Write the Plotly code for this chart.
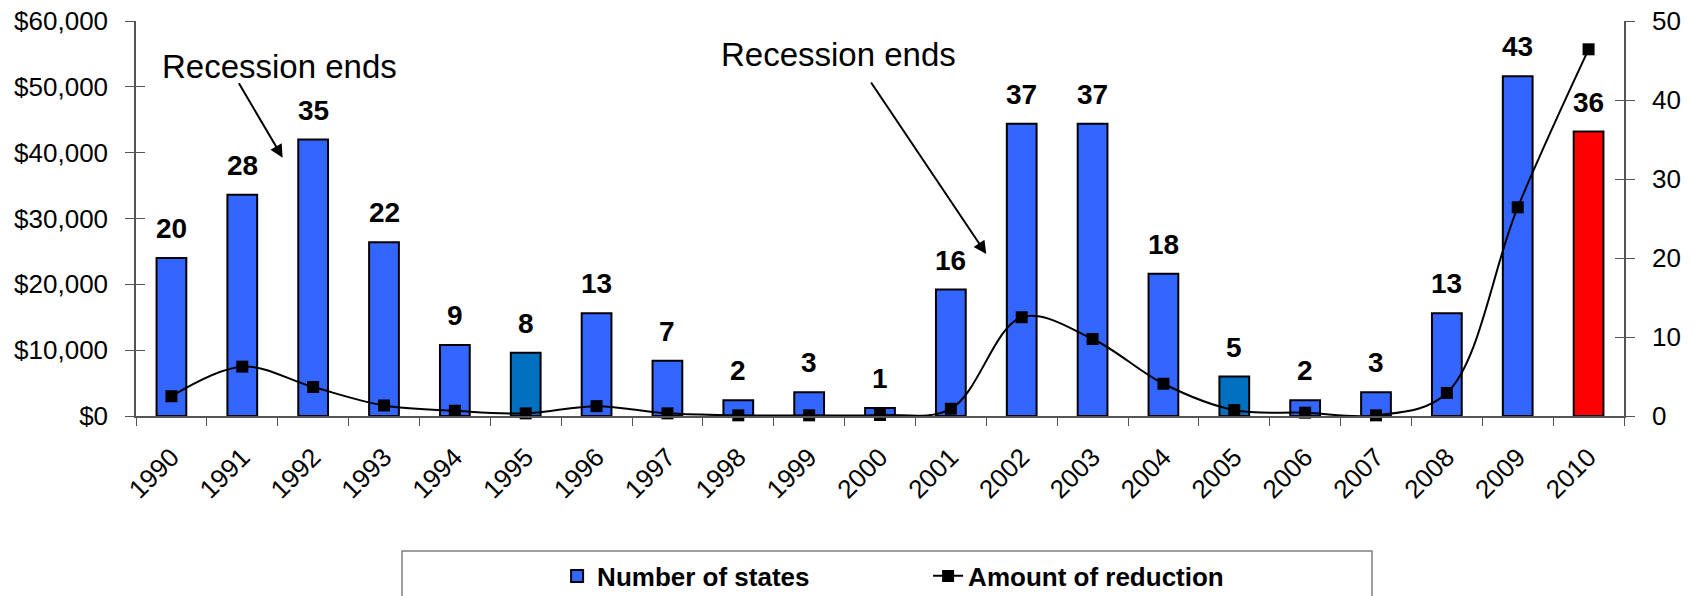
import plotly.graph_objects as go

# Fiscal-year data
years = [str(y) for y in range(1990, 2011)]
num_states = [20, 28, 35, 22, 9, 8, 13, 7, 2, 3, 1, 16, 37, 37, 18, 5, 2, 3, 13, 43, 36]
reduction = [3000, 7500, 4400, 1600, 800, 400, 1500, 400, 100, 100, 150, 1100,
             15000, 11700, 4900, 900, 500, 100, 3500, 31700, 55700]

BLUE = "#3366FF"
DARK_BLUE = "#0070C0"
RED = "#FF0000"
bar_colors = [BLUE] * len(years)
bar_colors[years.index("1995")] = DARK_BLUE
bar_colors[years.index("2005")] = DARK_BLUE
bar_colors[years.index("2010")] = RED

FONT = "Liberation Sans, Arial, sans-serif"
AXIS_COLOR = "#555555"

fig = go.Figure()

fig.add_trace(go.Bar(
    x=years, y=num_states, name="Number of states",
    marker=dict(color=bar_colors, line=dict(color="black", width=2)),
    yaxis="y",
))

fig.add_trace(go.Scatter(
    x=years, y=reduction, name="Amount of reduction",
    mode="lines+markers",
    line=dict(color="black", width=2, shape="spline", smoothing=1.0),
    marker=dict(symbol="square", size=12, color="black"),
    cliponaxis=False, yaxis="y2",
))

# value labels above each bar (category index on the x axis)
for i, n in enumerate(num_states):
    fig.add_annotation(x=i, y=n, xref="x", yref="y", text=str(n),
                       showarrow=False, yanchor="bottom", yshift=12,
                       font=dict(family=FONT, size=28, color="black", weight="bold"))

tickfont = dict(family=FONT, size=26, color="black")

fig.update_layout(
    width=1694, height=596,
    margin=dict(l=136, r=70, t=21, b=180, autoexpand=False),
    paper_bgcolor="white", plot_bgcolor="white",
    bargap=0.58,
    showlegend=True,
    legend=dict(
        orientation="h", x=0.283, y=-0.405, xanchor="left", yanchor="middle",
        font=dict(family=FONT, size=26, color="black", weight="bold"),
        entrywidth=326, entrywidthmode="pixels",
        bgcolor="rgba(0,0,0,0)", borderwidth=0,
    ),
    xaxis=dict(
        type="category", range=[-0.5, len(years) - 0.5], autorange=False,
        tickson="boundaries", ticks="outside", ticklen=8,
        tickcolor=AXIS_COLOR, showline=True, linecolor=AXIS_COLOR, linewidth=1.5,
        tickangle=-45, tickfont=tickfont, ticklabelstandoff=14,
        showgrid=False, zeroline=False, automargin=False,
    ),
    yaxis=dict(
        side="right", range=[0, 50], dtick=10, ticks="outside", ticklen=9,
        tickcolor=AXIS_COLOR, showline=True, linecolor=AXIS_COLOR, linewidth=1.5,
        tickfont=tickfont, ticklabelstandoff=12, showgrid=False, zeroline=False,
        anchor="x", automargin=False,
    ),
    yaxis2=dict(
        side="left", overlaying="y", range=[0, 60000], dtick=10000,
        tickprefix="$", tickformat=",d", ticks="outside", ticklen=9,
        tickcolor=AXIS_COLOR, showline=True, linecolor=AXIS_COLOR, linewidth=1.5,
        tickfont=tickfont, ticklabelstandoff=12, showgrid=False, zeroline=False,
        automargin=False,
    ),
    # inner halves of the crossing tick marks
    yaxis3=dict(
        side="left", overlaying="y", range=[0, 60000], dtick=10000,
        ticks="inside", ticklen=9, tickcolor=AXIS_COLOR, showticklabels=False,
        showline=False, showgrid=False, zeroline=False, automargin=False,
    ),
    yaxis4=dict(
        side="right", overlaying="y", range=[0, 50], dtick=10,
        ticks="inside", ticklen=9, tickcolor=AXIS_COLOR, showticklabels=False,
        showline=False, showgrid=False, zeroline=False, automargin=False,
    ),
)

# dummy traces so the tick-only axes get drawn
fig.add_trace(go.Scatter(x=[years[0]], y=[None], yaxis="y3", showlegend=False, hoverinfo="skip"))
fig.add_trace(go.Scatter(x=[years[0]], y=[None], yaxis="y4", showlegend=False, hoverinfo="skip"))

# "Recession ends" callouts
note_font = dict(family=FONT, size=33, color="black")
fig.add_annotation(x=1.52, y=44.3, xref="x", yref="y", text="Recession ends",
                   showarrow=False, font=note_font)
fig.add_annotation(x=9.42, y=45.7, xref="x", yref="y", text="Recession ends",
                   showarrow=False, font=note_font)
fig.add_annotation(x=1.57, y=32.7, ax=0.94, ay=42.3, xref="x", yref="y",
                   axref="x", ayref="y", text="", showarrow=True,
                   arrowhead=2, arrowsize=1.3, arrowwidth=2, arrowcolor="black")
fig.add_annotation(x=11.5, y=20.5, ax=9.86, ay=42.4, xref="x", yref="y",
                   axref="x", ayref="y", text="", showarrow=True,
                   arrowhead=2, arrowsize=1.3, arrowwidth=2, arrowcolor="black")

# legend frame
fig.add_shape(type="rect", xref="paper", yref="paper",
              x0=(402 - 136) / 1488, x1=(1372 - 136) / 1488,
              y0=(416 - 551) / 395, y1=(416 - 640) / 395,
              line=dict(color="#808080", width=1.5), fillcolor="rgba(0,0,0,0)")

fig.write_html("out.html")
